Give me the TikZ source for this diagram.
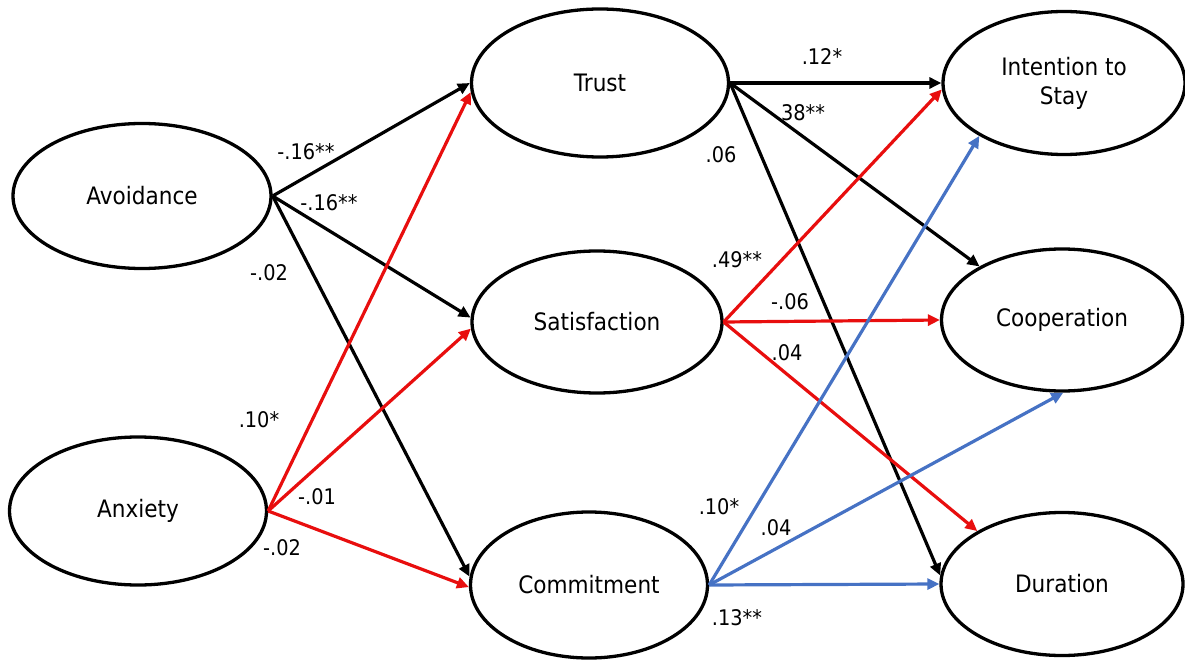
\documentclass[tikz,border=0pt]{standalone}
\usepackage{fontspec}
\setmainfont{DejaVu Sans}[FakeStretch=0.9]
\usetikzlibrary{arrows.meta,shapes.geometric}
\definecolor{pathred}{RGB}{232,14,14}
\definecolor{pathblue}{RGB}{70,114,196}

\begin{document}
\begin{tikzpicture}[x=1pt,y=-1pt,
  latent/.style={ellipse, draw, line width=3.3pt, inner sep=0pt, align=center,
    font=\fontsize{24}{29}\selectfont},
  link/.style={line width=3.2pt, -{Triangle[length=12pt,width=11pt]}},
  coef/.style={inner sep=0pt, font=\fontsize{21.5}{25}\selectfont}]

\useasboundingbox (0,0) rectangle (1185,660);

% latent variables
\node[latent, minimum width=258pt, minimum height=145pt] (avoid) at (142,196) {Avoidance};
\node[latent, minimum width=257pt, minimum height=148pt] (anx)   at (138,511) {Anxiety};
\node[latent, minimum width=257pt, minimum height=148pt] (trust) at (600,83)  {Trust};
\node[latent, minimum width=250pt, minimum height=142pt] (sat)   at (597,322) {Satisfaction};
\node[latent, minimum width=237pt, minimum height=146pt] (com)   at (589,585) {Commitment};
\node[latent, minimum width=242pt, minimum height=143pt] (inten) at (1064,83) {Intention to\\Stay};
\node[latent, minimum width=241pt, minimum height=142pt] (coop)  at (1062,320) {Cooperation};
\node[latent, minimum width=242pt, minimum height=143pt] (dur)   at (1062,584) {Duration};

% avoidance paths
\draw[link] (avoid.east) -- (trust.180);
\draw[link] (avoid.east) -- (sat.178);
\draw[link] (avoid.east) -- (com.176);

% anxiety paths
\draw[link, pathred] (anx.east) -- (trust.184);
\draw[link, pathred] (anx.east) -- (sat.183);
\draw[link, pathred] (anx.east) -- (com.181);

% trust paths
\draw[link] (trust.east) -- (inten.180);
\draw[link] (trust.east) -- (coop.147);
\draw[link] (trust.east) -- (dur.176);

% satisfaction paths
\draw[link, pathred] (sat.east) -- (inten.183);
\draw[link, pathred] (sat.east) -- (coop.180);
\draw[link, pathred] (sat.east) -- (dur.148);

% commitment paths
\draw[link, pathblue] (com.east) -- (inten.212);
\draw[link, pathblue] (com.east) -- (coop.271);
\draw[link, pathblue] (com.east) -- (dur.180);

% coefficients
\node[coef] (c1)  at (306,152) {-.16**};
\node[coef] (c2)  at (329,203) {-.16**};
\node[coef] (c3)  at (269,273) {-.02};
\node[coef] (c4)  at (259,420) {.10*};
\node[coef] (c5)  at (317,497) {-.01};
\node[coef] (c6)  at (282,548) {-.02};
\node[coef] (c7)  at (822,57)  {.12*};
\node[coef] (c8)  at (803,113) {38**};
\node[coef] (c9)  at (721,155) {.06};
\node[coef] (c10) at (737,260) {.49**};
\node[coef] (c11) at (790,302) {-.06};
\node[coef] (c12) at (787,353) {.04};
\node[coef] (c13) at (719,507) {.10*};
\node[coef] (c14) at (776,528) {.04};
\node[coef] (c15) at (737,618) {.13**};
\end{tikzpicture}
\end{document}
